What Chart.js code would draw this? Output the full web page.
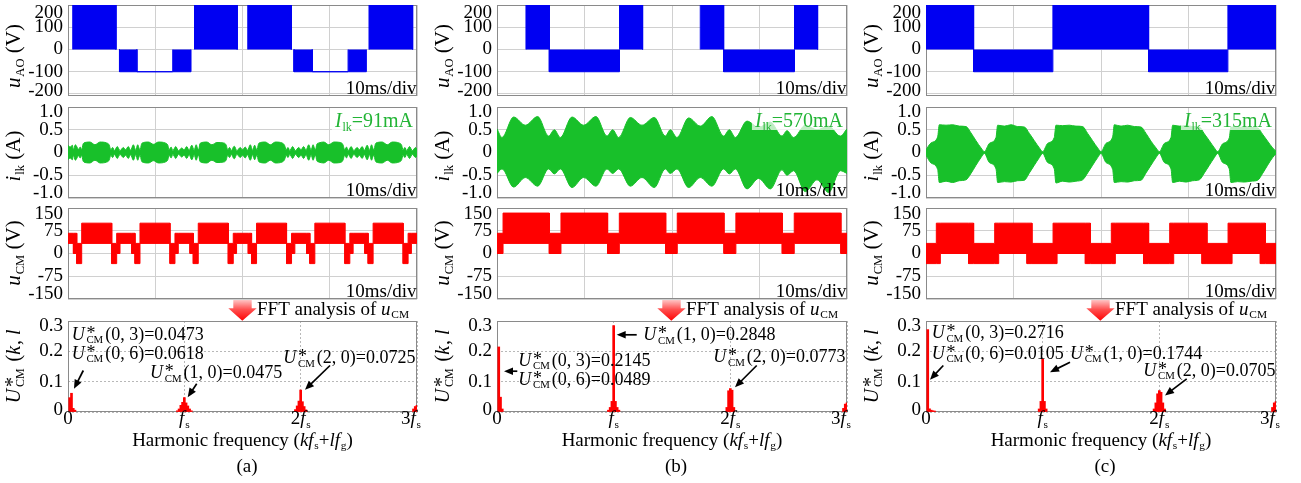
<!DOCTYPE html>
<html><head><meta charset="utf-8">
<script src="https://cdn.jsdelivr.net/npm/chart.js@4.4.1/dist/chart.umd.min.js"></script>
<style>
html,body{margin:0;padding:0;background:#fff;}
#wrap{position:relative;width:1301px;height:483px;overflow:hidden;background:#fff;}
canvas{position:absolute;}
</style></head><body><div id="wrap"></div>
<script>
// ===================== DATA =====================
// time axis (ms), 10 ms/div
const timeGrid = [0, 10, 20, 30, 40];
const timeDivLabel = '10ms/div';

// y-axis ticks
const uAOTicks = [-200, -100, 0, 100, 200];
const uAOTickLabels = ['-200', '-100', '0', '100', '200'];
const iLkTicks = [-1, -0.5, 0, 0.5, 1];
const iLkTickLabels = ['-1.0', '-0.5', '0', '0.5', '1.0'];
const uCMTicks = [-150, -75, 0, 75, 150];
const uCMTickLabels = ['-150', '-75', '0', '75', '150'];
const fftYTicks = [0, 0.1, 0.2, 0.3];
const fftYTickLabels = ['0', '0.1', '0.2', '0.3'];
const fftXTicks = [0, 1, 2, 3];
const fftXTickLabels = [[['0','n']], [['f','i'],['s','s']], [['2','n'],['f','i'],['s','s']], [['3','n'],['f','i'],['s','s']]];

// Row 1: u_AO PWM bands — segment boundaries (ms), band upper / lower (V)
const uAO_a_t  = [0, 0.54, 5.5, 5.9, 7.9, 12.0, 14.1, 14.5, 19.4, 20.6, 25.6, 25.9, 28.0, 32.1, 34.2, 34.5, 39.5, 40];
const uAO_a_hi = [0, 210, 0, 0, -100, 0, 0, 210, 0, 210, 0, 0, -100, 0, 0, 210, 0];
const uAO_a_lo = [0, 0, 0, -100, -100, -100, 0, 0, 0, 0, 0, -100, -100, -100, 0, 0, 0];
const uAO_b_t  = [0, 3.31, 5.98, 14.0, 16.64, 23.23, 25.9, 34.0, 36.64, 40];
const uAO_b_hi = [0, 210, 0, 210, 0, 210, 0, 210, 0];
const uAO_b_lo = [0, 0, -100, 0, 0, 0, -100, 0, 0];
const uAO_c_t  = [0, 5.44, 14.5, 25.44, 34.5, 40];
const uAO_c_hi = [210, 0, 210, 0, 210];
const uAO_c_lo = [0, -100, 0, -100, 0];

// Row 2: i_lk envelopes (ms, A)
const ilkA_t = [0, 0.25, 0.5, 0.61, 0.85, 1.2, 1.4, 1.57,
 1.72, 1.95, 2.52, 3.09, 3.67, 4.43, 4.74, 4.89, 5.12, 5.31, 5.65, 5.96, 6.34, 6.61, 6.91, 7.18, 7.49, 7.76, 7.99, 8.17,
 8.27, 8.42, 8.65, 9.22, 9.79, 10.37, 11.13, 11.44, 11.59, 11.82, 12.01, 12.35, 12.66, 13.04, 13.31, 13.61, 13.88, 14.19, 14.46, 14.69, 14.87,
 14.97, 15.12, 15.35, 15.92, 16.49, 17.07, 17.83, 18.14, 18.29, 18.52, 18.71, 19.05, 19.36, 19.74, 20.01, 20.31, 20.58, 20.89, 21.16, 21.39, 21.57,
 21.67, 21.82, 22.05, 22.62, 23.19, 23.77, 24.53, 24.84, 24.99, 25.22, 25.41, 25.75, 26.06, 26.44, 26.71, 27.01, 27.28, 27.59, 27.86, 28.09, 28.27,
 28.37, 28.52, 28.75, 29.32, 29.89, 30.47, 31.23, 31.54, 31.69, 31.92, 32.11, 32.45, 32.76, 33.14, 33.41, 33.71, 33.98, 34.29, 34.56, 34.79, 34.97,
 35.07, 35.22, 35.45, 36.02, 36.59, 37.17, 37.93, 38.24, 38.39, 38.62, 38.81, 39.15, 39.46, 39.84, 40];
const ilkA_amp = [0.16, 0.12, 0.16, 0.06, 0.17, 0.07, 0.12, 0.06,
 0.18, 0.22, 0.23, 0.17, 0.23, 0.21, 0.16, 0.06, 0.11, 0.04, 0.13, 0.04, 0.11, 0.06, 0.13, 0.05, 0.17, 0.05, 0.17, 0.08,
 0.06, 0.18, 0.22, 0.23, 0.18, 0.23, 0.21, 0.16, 0.06, 0.12, 0.04, 0.13, 0.04, 0.10, 0.06, 0.13, 0.05, 0.16, 0.05, 0.17, 0.08,
 0.06, 0.19, 0.22, 0.23, 0.17, 0.22, 0.21, 0.16, 0.06, 0.11, 0.04, 0.14, 0.04, 0.11, 0.06, 0.12, 0.05, 0.17, 0.05, 0.16, 0.08,
 0.06, 0.18, 0.22, 0.23, 0.17, 0.23, 0.21, 0.15, 0.06, 0.11, 0.04, 0.13, 0.04, 0.11, 0.06, 0.13, 0.05, 0.17, 0.05, 0.17, 0.08,
 0.06, 0.18, 0.21, 0.23, 0.17, 0.23, 0.22, 0.16, 0.06, 0.12, 0.04, 0.13, 0.04, 0.11, 0.06, 0.13, 0.05, 0.16, 0.05, 0.17, 0.08,
 0.06, 0.18, 0.22, 0.23, 0.17, 0.23, 0.21, 0.16, 0.06, 0.11, 0.04, 0.13, 0.04, 0.11, 0.08];

const ilkB_t = [0, 0.57, 1.9, 3.24, 4.65, 5.9, 6.55, 7.24, 8.57, 9.9, 11.31, 12.57, 13.22, 13.9, 15.24, 16.57, 17.98, 19.24, 19.8, 20.57,
 21.9, 23.24, 24.56, 25.9, 26.55, 27.24, 28.57, 29.9, 31.24, 32.57, 33.14, 33.9, 35.24, 36.57, 37.9, 39.24, 40];
const ilkB_hi = [0.52, 0.33, 0.78, 0.6, 0.79, 0.36, 0.5, 0.33, 0.78, 0.6, 0.79, 0.36, 0.5, 0.33, 0.77, 0.6, 0.77, 0.36, 0.5, 0.33,
 0.76, 0.58, 0.79, 0.36, 0.5, 0.33, 0.69, 0.55, 0.67, 0.36, 0.48, 0.33, 0.6, 0.5, 0.58, 0.36, 0.52];
const ilkB_lo = [-0.46, -0.36, -0.76, -0.55, -0.74, -0.36, -0.47, -0.36, -0.77, -0.55, -0.74, -0.36, -0.46, -0.36, -0.74, -0.55, -0.77, -0.36, -0.46, -0.36,
 -0.77, -0.55, -0.74, -0.36, -0.47, -0.36, -0.8, -0.57, -0.8, -0.38, -0.5, -0.4, -0.86, -0.6, -0.88, -0.4, -0.46];

const ilkC_t = [0, 0.57, 1.33, 1.52, 2.29, 3.05, 3.81, 4.57, 5.14, 5.71, 6.29,
 6.67, 7.24, 8.0, 8.19, 8.96, 9.72, 10.48, 11.24, 11.81, 12.38, 12.96,
 13.33, 13.9, 14.66, 14.85, 15.62, 16.38, 17.14, 17.9, 18.47, 19.04, 19.62,
 20.0, 20.57, 21.33, 21.52, 22.29, 23.05, 23.81, 24.57, 25.14, 25.71, 26.29,
 26.67, 27.24, 28.0, 28.19, 28.96, 29.72, 30.48, 31.24, 31.81, 32.38, 32.96,
 33.33, 33.9, 34.66, 34.85, 35.62, 36.38, 37.14, 37.9, 38.47, 39.04, 39.62, 40];
const ilkC_hi = [0.06, 0.21, 0.34, 0.61, 0.6, 0.61, 0.58, 0.57, 0.43, 0.26, 0.1,
 0.02, 0.2, 0.33, 0.6, 0.58, 0.61, 0.57, 0.56, 0.42, 0.26, 0.1,
 0.02, 0.2, 0.33, 0.6, 0.59, 0.6, 0.58, 0.57, 0.42, 0.26, 0.1,
 0.02, 0.2, 0.34, 0.61, 0.58, 0.6, 0.57, 0.56, 0.42, 0.25, 0.1,
 0.02, 0.2, 0.33, 0.6, 0.58, 0.59, 0.57, 0.56, 0.41, 0.26, 0.1,
 0.02, 0.19, 0.32, 0.56, 0.55, 0.56, 0.55, 0.54, 0.4, 0.25, 0.1, 0.03];
const ilkC_lo = [-0.06, -0.23, -0.37, -0.66, -0.63, -0.66, -0.62, -0.6, -0.46, -0.28, -0.11,
 -0.02, -0.22, -0.36, -0.66, -0.64, -0.65, -0.62, -0.61, -0.45, -0.28, -0.11,
 -0.02, -0.22, -0.36, -0.67, -0.63, -0.65, -0.63, -0.6, -0.45, -0.28, -0.11,
 -0.02, -0.22, -0.37, -0.66, -0.64, -0.65, -0.62, -0.61, -0.45, -0.28, -0.11,
 -0.02, -0.22, -0.36, -0.66, -0.63, -0.65, -0.62, -0.6, -0.45, -0.28, -0.11,
 -0.02, -0.22, -0.36, -0.66, -0.64, -0.65, -0.63, -0.61, -0.46, -0.28, -0.11, -0.03];
const iLkRms = ['91mA', '570mA', '315mA'];

// Row 3: u_CM PWM bands — boundaries (ms), upper / lower (V)
const uCM_a_t  = [0, 0.62, 1.0, 1.57, 5.01, 5.58, 5.96, 7.30, 7.68, 8.25, 11.69, 12.26, 12.64, 13.98, 14.36, 14.93, 18.37, 18.94, 19.32, 20.66, 21.04,
 21.61, 25.05, 25.62, 26.0, 27.34, 27.72, 28.29, 31.73, 32.3, 32.68, 34.02, 34.4, 34.97, 38.41, 38.98, 39.36, 40];
const uCM_a_hi = [66.7, 66.7, 33.3, 100, 33.3, 66.7, 66.7, 66.7, 33.3, 100, 33.3, 66.7, 66.7, 66.7, 33.3, 100, 33.3, 66.7, 66.7, 66.7, 33.3,
 100, 33.3, 66.7, 66.7, 66.7, 33.3, 100, 33.3, 66.7, 66.7, 66.7, 33.3, 100, 33.3, 66.7, 66.7];
const uCM_a_lo = [33.3, 0, -33.3, 33.3, -33.3, 0, 33.3, 0, -33.3, 33.3, -33.3, 0, 33.3, 0, -33.3, 33.3, -33.3, 0, 33.3, 0, -33.3,
 33.3, -33.3, 0, 33.3, 0, -33.3, 33.3, -33.3, 0, 33.3, 0, -33.3, 33.3, -33.3, 0, 33.3];
const uCM_b_t  = [0, 0.69, 5.98, 7.31, 12.64, 13.98, 19.28, 20.6, 25.94, 27.3, 32.6, 33.97, 39.3, 40];
const uCM_b_hi = [66.7, 133.3, 66.7, 133.3, 66.7, 133.3, 66.7, 133.3, 66.7, 133.3, 66.7, 133.3, 66.7];
const uCM_b_lo = [0, 33.3, 0, 33.3, 0, 33.3, 0, 33.3, 0, 33.3, 0, 33.3, 0];
const uCM_c_t  = [0, 1.18, 1.64, 4.87, 5.44, 7.85, 8.31, 11.54, 12.11, 14.52, 14.98, 18.21, 18.78, 21.18, 21.64, 24.87, 25.44,
 27.85, 28.31, 31.54, 32.11, 34.52, 34.98, 38.21, 38.78, 40];
const uCM_c_hi = [33.3, 100, 100, 100, 33.3, 100, 100, 100, 33.3, 100, 100, 100, 33.3, 100, 100, 100, 33.3, 100, 100, 100, 33.3, 100, 100, 100, 33.3];
const uCM_c_lo = [-33.3, -33.3, 0, -33.3, -33.3, -33.3, 0, -33.3, -33.3, -33.3, 0, -33.3, -33.3, -33.3, 0, -33.3, -33.3, -33.3, 0, -33.3, -33.3, -33.3, 0, -33.3, -33.3];

// Row 4: FFT spectra of u_CM (x in units of f_s, normalized amplitude)
const fftA_x = [0.015, 0.03, 0.045, 0.06, 0.94, 0.955, 0.97, 0.985, 1.0, 1.015, 1.03, 1.045, 1.06, 1.955, 1.97, 1.985, 2.0, 2.015, 2.03, 2.045, 2.97, 2.985, 3.0];
const fftA_y = [0.0473, 0.0618, 0.012, 0.006, 0.004, 0.01, 0.022, 0.032, 0.0475, 0.03, 0.02, 0.01, 0.004, 0.008, 0.02, 0.036, 0.0725, 0.034, 0.018, 0.007, 0.01, 0.018, 0.022];
const fftB_x = [0.015, 0.03, 0.045, 0.955, 0.97, 0.985, 1.0, 1.015, 1.03, 1.045, 1.97, 1.985, 2.0, 2.015, 2.03, 2.97, 2.985, 3.0];
const fftB_y = [0.2145, 0.0489, 0.01, 0.006, 0.015, 0.035, 0.2848, 0.035, 0.015, 0.006, 0.015, 0.07, 0.0773, 0.072, 0.015, 0.012, 0.026, 0.03];
const fftC_x = [0.015, 0.03, 0.045, 0.06, 0.075, 0.97, 0.985, 1.0, 1.015, 1.03, 1.955, 1.97, 1.985, 2.0, 2.015, 2.03, 2.045, 2.97, 2.985, 3.0];
const fftC_y = [0.2716, 0.0105, 0.006, 0.004, 0.003, 0.01, 0.035, 0.1744, 0.035, 0.01, 0.01, 0.03, 0.06, 0.0705, 0.065, 0.03, 0.01, 0.015, 0.03, 0.034];

// harmonic annotations (k, l) and values
const harmA = [['0, 3', 0.0473], ['0, 6', 0.0618], ['1, 0', 0.0475], ['2, 0', 0.0725]];
const harmB = [['1, 0', 0.2848], ['0, 3', 0.2145], ['0, 6', 0.0489], ['2, 0', 0.0773]];
const harmC = [['0, 3', 0.2716], ['0, 6', 0.0105], ['1, 0', 0.1744], ['2, 0', 0.0705]];
const captions = ['(a)', '(b)', '(c)'];

// ===================== LAYOUT / STYLE =====================
const SERIF = '"Liberation Serif","Times New Roman",serif';
const BLUE = '#0000f2', GREEN = '#18c02a', RED = '#ff0000', GREEN_TXT = '#22b435';
const GRID = '#d0d0d0', FRAME = '#8a8a8a';
const COLS = [{l: 68, w: 349}, {l: 497, w: 350}, {l: 926, w: 350}];
const ROWS = [{t: 5, h: 91}, {t: 107, h: 91}, {t: 208, h: 91}, {t: 321, h: 91}];
const PADL = 68, PADR = 12;
const notePos = [
  [[3.7, 18.5], [3.7, 37.5], [82, 57], [215.3, 42]],
  [[146.3, 19], [21.3, 44.5], [21.3, 63.8], [216.3, 41.2]],
  [[5.7, 17.2], [5.7, 37.8], [144, 37.8], [217.3, 54.5]]
];
const noteArrows = [
  [[15.3, 49.5, 6, 67.8], [128.7, 62.8, 119.7, 76.2], [262, 44.5, 237, 68.8]],
  [[139.7, 13.8, 119.7, 13.8], [20.3, 50.2, 7, 50.2], [259.7, 44.5, 238, 66.2]],
  [[17.3, 44.5, 4, 58.8], [144, 41.2, 124, 51.2], [260.7, 57.8, 239, 74.5]]
];
const TITLES = [
  [['u','i'],['AO','s'],[' (V)','n']],
  [['i','i'],['lk','s'],[' (A)','n']],
  [['u','i'],['CM','s'],[' (V)','n']],
  [['U','i'],['CM','x'],[' (','n'],['k','i'],[', ','n'],['l','i']]
];
const TITLE_DY = [5.5, 3.5, -0.5, -0.5];
const XTITLE = [['Harmonic frequency (','n'],['kf','i'],['s','s'],['+','n'],['lf','i'],['g','s'],[')','n']];
const FFT_LABEL = [['FFT analysis of ','n'],['u','i'],['CM','s']];

Chart.defaults.font.family = SERIF;

// ===================== HELPERS =====================
function fnt(size, italic) { return (italic ? 'italic ' : '') + size.toFixed(2) + 'px ' + SERIF; }
function richLayout(ctx, runs, size) {
  const items = []; let w = 0;
  const sub = size * 0.6, subDy = size * 0.2;
  for (const [t, k] of runs) {
    if (k === 'n' || k === 'i') {
      ctx.font = fnt(size, k === 'i'); items.push({t, f: ctx.font, x: w, y: 0});
      w += ctx.measureText(t).width + (k === 'i' ? size * 0.04 : 0);
    } else if (k === 's') {
      ctx.font = fnt(sub, false); items.push({t, f: ctx.font, x: w, y: subDy});
      w += ctx.measureText(t).width;
    } else if (k === 'x') {
      ctx.font = fnt(sub, false); const tw = ctx.measureText(t).width;
      items.push({t, f: ctx.font, x: w + 1, y: subDy});
      ctx.font = fnt(size, false); items.push({t: '*', f: ctx.font, x: w + 1, y: -size * 0.05});
      w += tw + 3;
    }
  }
  return {items, w};
}
function drawRich(ctx, runs, x, y, size, align, color) {
  const L = richLayout(ctx, runs, size);
  const x0 = align === 'center' ? x - L.w / 2 : align === 'right' ? x - L.w : x;
  ctx.fillStyle = color; ctx.textBaseline = 'alphabetic'; ctx.textAlign = 'left';
  for (const it of L.items) { ctx.font = it.f; ctx.fillText(it.t, x0 + it.x, y + it.y); }
  return {x0, w: L.w};
}
function yTitle(ctx, a, runs, size, dy) {
  ctx.save(); ctx.translate(a.left - 48, (a.top + a.bottom) / 2 + dy); ctx.rotate(-Math.PI / 2);
  drawRich(ctx, runs, 0, 0, size, 'center', '#000'); ctx.restore();
}
function arrow(ctx, x1, y1, x2, y2) {
  const an = Math.atan2(y2 - y1, x2 - x1), hl = 9, hw = 3.8;
  const c = Math.cos(an), s = Math.sin(an);
  ctx.strokeStyle = '#000'; ctx.fillStyle = '#000'; ctx.lineWidth = 1.7;
  ctx.beginPath(); ctx.moveTo(x1, y1); ctx.lineTo(x2 - hl * 0.7 * c, y2 - hl * 0.7 * s); ctx.stroke();
  ctx.beginPath(); ctx.moveTo(x2, y2);
  ctx.lineTo(x2 - hl * c + hw * s, y2 - hl * s - hw * c);
  ctx.lineTo(x2 - hl * c - hw * s, y2 - hl * s + hw * c);
  ctx.closePath(); ctx.fill();
}
function stepPoints(t, v) {
  const p = [];
  for (let i = 0; i < v.length; i++) { p.push({x: t[i], y: v[i]}); p.push({x: t[i + 1], y: v[i]}); }
  return p;
}
function curvePoints(t, v) { return t.map((x, i) => ({x, y: v[i]})); }
// segments where the waveform rests at 0 V (upper = lower = 0) are left undrawn
const hideZeroRest = {borderColor: s => (s.p0.parsed.y === 0 && s.p1.parsed.y === 0) ? 'rgba(0,0,0,0)' : undefined};
function band(upper, lower, color, smooth, hideZero) {
  const common = {borderColor: color, backgroundColor: color, borderWidth: 1, pointRadius: 0,
    cubicInterpolationMode: smooth ? 'monotone' : 'default', tension: 0};
  if (hideZero) common.segment = hideZeroRest;
  return [Object.assign({data: upper, fill: '+1'}, common), Object.assign({data: lower, fill: false}, common)];
}
function yScale(min, max, ticks, labels, shiftTop, shiftBot, dash) {
  const n = ticks.length;
  return {
    type: 'linear', min, max,
    afterBuildTicks: s => { s.ticks = ticks.map(v => ({value: v})); },
    afterFit: s => { s.width = PADL; },
    ticks: {
      autoSkip: false, padding: 5, color: '#000',
      font: c => ({family: SERIF, size: 19,
        lineHeight: c.index === n - 1 ? 2 * shiftTop / 19 : (c.index === 0 ? 2 * shiftBot / 19 : 1.2)}),
      callback: (v, i) => i === n - 1 ? ['', labels[i]] : (i === 0 ? [labels[i], ''] : labels[i])
    },
    grid: {color: dash ? '#b8b8b8' : GRID, lineWidth: 1, drawTicks: false},
    border: {display: false, dash: dash || []}
  };
}
function xScale(min, max, gridVals, dash) {
  return {
    type: 'linear', min, max, offset: false,
    afterBuildTicks: s => { s.ticks = gridVals.map(v => ({value: v})); },
    afterFit: s => { s.height = 0; },
    ticks: {display: false},
    grid: {color: dash ? '#b8b8b8' : GRID, lineWidth: 1, drawTicks: false, offset: false},
    border: {display: false, dash: dash || []}
  };
}
function decoPlugin(fn) {
  return {
    id: 'deco',
    beforeDatasetsDraw(chart) {
      const ctx = chart.ctx, a = chart.chartArea;
      ctx.save(); ctx.strokeStyle = FRAME; ctx.lineWidth = 1;
      ctx.strokeRect(a.left + 0.5, a.top + 0.5, a.right - a.left - 1, a.bottom - a.top - 1); ctx.restore();
    },
    afterDraw(chart) { const ctx = chart.ctx; ctx.save(); fn(ctx, chart.chartArea, chart); ctx.restore(); }
  };
}
const wrap = document.getElementById('wrap');
function makeChart(col, row, type, datasets, scales, deco, padT, padB) {
  const C = COLS[col], R = ROWS[row];
  const W = C.w + PADL + PADR, H = R.h + padT + padB;
  const cv = document.createElement('canvas');
  cv.width = W; cv.height = H;
  cv.style.left = (C.l - PADL) + 'px'; cv.style.top = (R.t - padT) + 'px';
  cv.style.width = W + 'px'; cv.style.height = H + 'px';
  wrap.appendChild(cv);
  return new Chart(cv, {
    type, data: {datasets},
    options: {
      responsive: false, animation: false, devicePixelRatio: 1, events: [],
      layout: {padding: {left: 0, right: PADR, top: padT, bottom: padB}},
      plugins: {legend: {display: false}, tooltip: {enabled: false}},
      scales
    },
    plugins: [decoPlugin(deco)]
  });
}
function timeDeco(row, extra) {
  return (ctx, a, chart) => {
    yTitle(ctx, a, TITLES[row], 21, TITLE_DY[row]);
    if (extra) extra(ctx, a);
    drawRich(ctx, [[timeDivLabel, 'n']], a.right - 0.5, a.bottom - 2.5, 19, 'right', '#000');
  };
}

// ===================== BUILD =====================
const uAOsets = [[uAO_a_t, uAO_a_hi, uAO_a_lo], [uAO_b_t, uAO_b_hi, uAO_b_lo], [uAO_c_t, uAO_c_hi, uAO_c_lo]];
const uCMsets = [[uCM_a_t, uCM_a_hi, uCM_a_lo], [uCM_b_t, uCM_b_hi, uCM_b_lo], [uCM_c_t, uCM_c_hi, uCM_c_lo]];
const ilkSets = [
  [ilkA_t, ilkA_amp, ilkA_t, ilkA_amp.map(v => -v)],
  [ilkB_t, ilkB_hi, ilkB_t, ilkB_lo],
  [ilkC_t, ilkC_hi, ilkC_t, ilkC_lo]
];
const fftSets = [[fftA_x, fftA_y], [fftB_x, fftB_y], [fftC_x, fftC_y]];
const harmSets = [harmA, harmB, harmC];

for (let c = 0; c < 3; c++) {
  // Row 1: u_AO
  const [t1, h1, l1] = uAOsets[c];
  makeChart(c, 0, 'line', band(stepPoints(t1, h1), stepPoints(t1, l1), BLUE, false, true),
    {x: xScale(0, 40, timeGrid), y: yScale(-209, 200, uAOTicks, uAOTickLabels, 8, 2.5)},
    timeDeco(0), 30, 30);

  // Row 2: i_lk
  const [ta, va, tb, vb] = ilkSets[c];
  makeChart(c, 1, 'line', band(curvePoints(ta, va), curvePoints(tb, vb), GREEN, true, false),
    {x: xScale(0, 40, timeGrid), y: yScale(-1, 1, iLkTicks, iLkTickLabels, 5.5, 5)},
    timeDeco(1, (ctx, a) => {
      const runs = [['I','i'],['lk','s'],['=' + iLkRms[c],'n']];
      const L = richLayout(ctx, runs, 20);
      ctx.fillStyle = 'rgba(255,255,255,0.72)';
      ctx.fillRect(a.right - 4 - L.w - 3, a.top + 6.5, L.w + 6, 16.5);
      drawRich(ctx, runs, a.right - 4, a.top + 19.5, 20, 'right', GREEN_TXT);
    }), 30, 30);

  // Row 3: u_CM
  const [t3, h3, l3] = uCMsets[c];
  makeChart(c, 2, 'line', band(stepPoints(t3, h3), stepPoints(t3, l3), RED, false, false),
    {x: xScale(0, 40, timeGrid), y: yScale(-150, 150, uCMTicks, uCMTickLabels, 6.5, 5)},
    timeDeco(2), 30, 30);

  // Row 4: FFT
  const [fx, fy] = fftSets[c];
  makeChart(c, 3, 'bar', [{
      data: fx.map((x, i) => ({x, y: fy[i]})), backgroundColor: RED, borderWidth: 0,
      barThickness: 2, grouped: false
    }],
    {x: xScale(0, 3, fftXTicks, [2, 2]), y: yScale(0, 0.3, fftYTicks, fftYTickLabels, 5, 2, [2, 2])},
    (ctx, a, chart) => {
      yTitle(ctx, a, TITLES[3], 20, TITLE_DY[3]);
      const L = a.left, T = a.top;
      const g = ctx.createLinearGradient(0, T - 21, 0, T);
      g.addColorStop(0, '#ffc4c4'); g.addColorStop(0.45, '#ff5050'); g.addColorStop(1, '#ff0000');
      ctx.fillStyle = g; ctx.beginPath();
      ctx.moveTo(L + 165.3, T - 21); ctx.lineTo(L + 183.7, T - 21); ctx.lineTo(L + 183.7, T - 12.7);
      ctx.lineTo(L + 188.7, T - 12.7); ctx.lineTo(L + 174.3, T - 0.3); ctx.lineTo(L + 160.3, T - 12.7);
      ctx.lineTo(L + 165.3, T - 12.7); ctx.closePath(); ctx.fill();
      drawRich(ctx, FFT_LABEL, L + 189, T - 6.5, 19, 'left', '#000');
      const xs = chart.scales.x;
      fftXTicks.forEach((v, i) => {
        const lay = richLayout(ctx, fftXTickLabels[i], 19);
        let x0 = xs.getPixelForValue(v) - lay.w / 2;
        if (x0 + lay.w > a.right + 4) x0 = a.right + 4 - lay.w;
        drawRich(ctx, fftXTickLabels[i], x0, a.bottom + 12, 19, 'left', '#000');
      });
      drawRich(ctx, XTITLE, (a.left + a.right) / 2, a.bottom + 33.5, 19, 'center', '#000');
      drawRich(ctx, [[captions[c], 'n']], a.left + 179, a.bottom + 59.5, 19, 'center', '#000');
      harmSets[c].forEach(([kl, val], i) => {
        const p = notePos[c][i];
        drawRich(ctx, [['U','i'],['CM','x'],['(' + kl + ')=' + val.toFixed(4),'n']], L + p[0], T + p[1], 18, 'left', '#000');
      });
      noteArrows[c].forEach(r => arrow(ctx, L + r[0], T + r[1], L + r[2], T + r[3]));
    }, 24, 72);
}
</script></body></html>
